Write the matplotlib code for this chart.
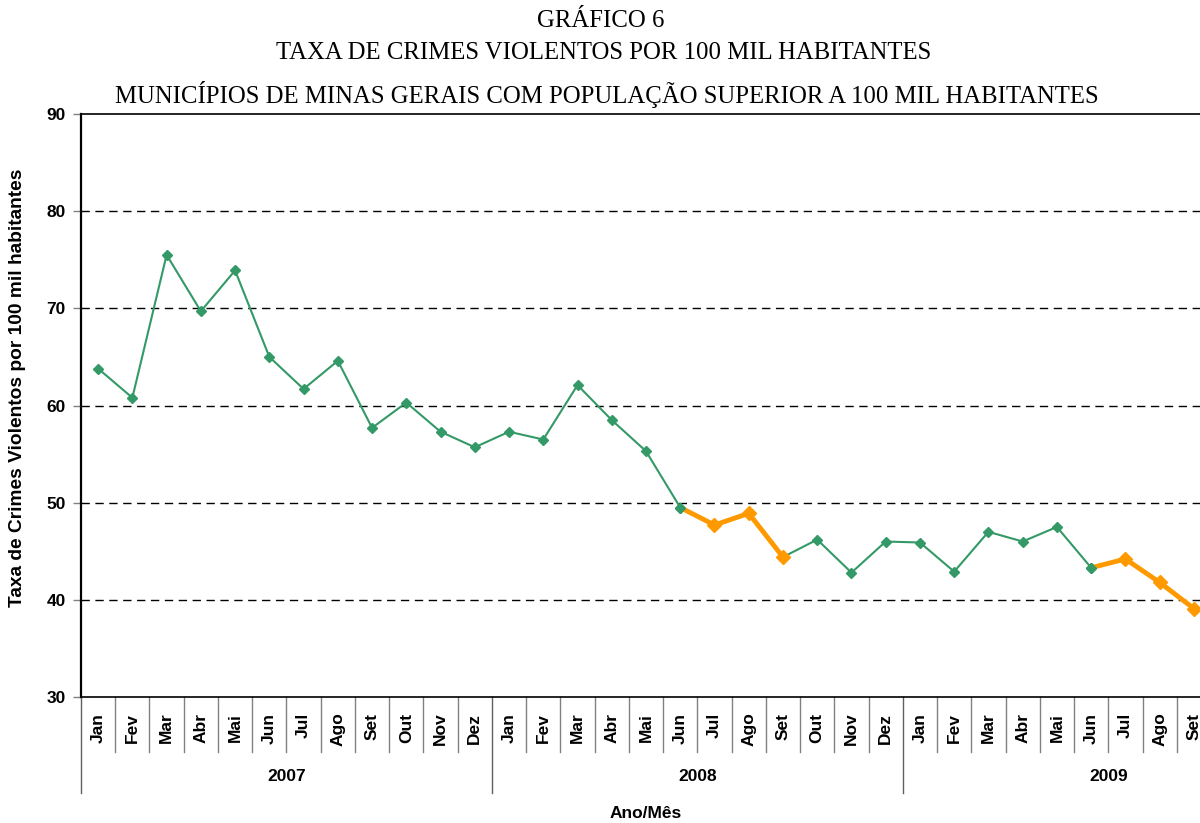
import numpy as np
import matplotlib
matplotlib.use('Agg')
import matplotlib.pyplot as plt
from matplotlib import transforms

meses = ['Jan', 'Fev', 'Mar', 'Abr', 'Mai', 'Jun', 'Jul', 'Ago', 'Set', 'Out', 'Nov', 'Dez'] * 2 \
    + ['Jan', 'Fev', 'Mar', 'Abr', 'Mai', 'Jun', 'Jul', 'Ago', 'Set']
anos = ['2007', '2008', '2009']
meses_por_ano = [12, 12, 9]
taxa = [63.8, 60.8, 75.5, 69.7, 73.9, 65.0, 61.7, 64.6, 57.7, 60.3, 57.3, 55.7,
        57.3, 56.5, 62.1, 58.5, 55.3, 49.5, 47.7, 48.9, 44.4, 46.2, 42.8, 46.0,
        45.9, 42.9, 47.0, 46.0, 47.5, 43.3, 44.2, 41.8, 39.1]
# trechos destacados em laranja (indice inicial, indice final inclusivo)
destaques = [(17, 20), (29, 32)]

verde = '#339966'
laranja = '#FF9900'

plt.rcParams['font.family'] = ['Liberation Sans', 'DejaVu Sans']

fig = plt.figure(figsize=(12, 8.23), dpi=100)
ax = fig.add_axes([81 / 1200, 1 - 697 / 823, 1130 / 1200, 583 / 823])

x = np.arange(len(taxa)) + 0.5
ax.plot(x, taxa, color=verde, lw=1.5, marker='D', ms=5.5, zorder=3)
for ini, fim in destaques:
    n = fim - ini + 1
    ax.plot(x[ini:fim + 1], taxa[ini:fim + 1], color=laranja, lw=3.5, marker='D', ms=7,
            markevery=list(range(1, n)), zorder=4)
    ax.plot(x[ini], taxa[ini], color=verde, marker='D', ms=5.5, zorder=5)

ax.set_xlim(0, len(taxa))
ax.set_ylim(30, 90)
ax.set_yticks(np.arange(30, 91, 10))
for v in range(40, 90, 10):
    ax.axhline(v, color='black', lw=1, ls=(0, (6, 4)), zorder=1)
ax.tick_params(axis='y', length=6, width=1, color='#808080', pad=5, labelsize=12.5)
for lbl in ax.get_yticklabels():
    lbl.set_fontweight('bold')
ax.set_xticks([])

ax.spines['right'].set_visible(False)
ax.spines['left'].set_linewidth(1.6)
ax.spines['bottom'].set_linewidth(1.2)
ax.spines['top'].set_linewidth(1.2)

trans = transforms.blended_transform_factory(ax.transData, ax.transAxes)

# eixo de categorias em dois niveis
for i, m in enumerate(meses):
    ax.text(i + 0.5, -0.027, m, rotation=90, ha='center', va='top', fontsize=12.5,
            fontweight='bold', transform=trans)

inicio_anos = np.cumsum([0] + meses_por_ano)
for i in range(len(meses) + 1):
    if i in inicio_anos:
        ax.plot([i, i], [0, -0.165], color='#606060', lw=1, transform=trans, clip_on=False)
    else:
        ax.plot([i, i], [0, -0.094], color='#808080', lw=1, transform=trans, clip_on=False)

for k, ano in enumerate(anos):
    ini = inicio_anos[k]
    fim = ini + 12
    ax.text((ini + fim) / 2, -0.137, ano, ha='center', va='center', fontsize=12.5,
            fontweight='bold', transform=trans)

ax.text(0.5, -0.2, 'Ano/Mês', ha='center', va='center', fontsize=12.5, fontweight='bold',
        transform=ax.transAxes)
fig.text(18 / 1200, 1 - 388 / 823, 'Taxa de Crimes Violentos por 100 mil habitantes',
         rotation=90, ha='center', va='center', fontsize=13.8, fontweight='bold')

titulos = ['GRÁFICO 6',
           'TAXA DE CRIMES VIOLENTOS POR 100 MIL HABITANTES',
           'MUNICÍPIOS DE MINAS GERAIS COM POPULAÇÃO SUPERIOR A 100 MIL HABITANTES']
for t, xc, yc in zip(titulos, [601, 604, 607], [21, 53, 94]):
    fig.text(xc / 1200, 1 - yc / 823, t, ha='center', va='center', fontsize=17.8,
             family=['Liberation Serif', 'DejaVu Serif'])

fig.savefig('out.png', dpi=100)
